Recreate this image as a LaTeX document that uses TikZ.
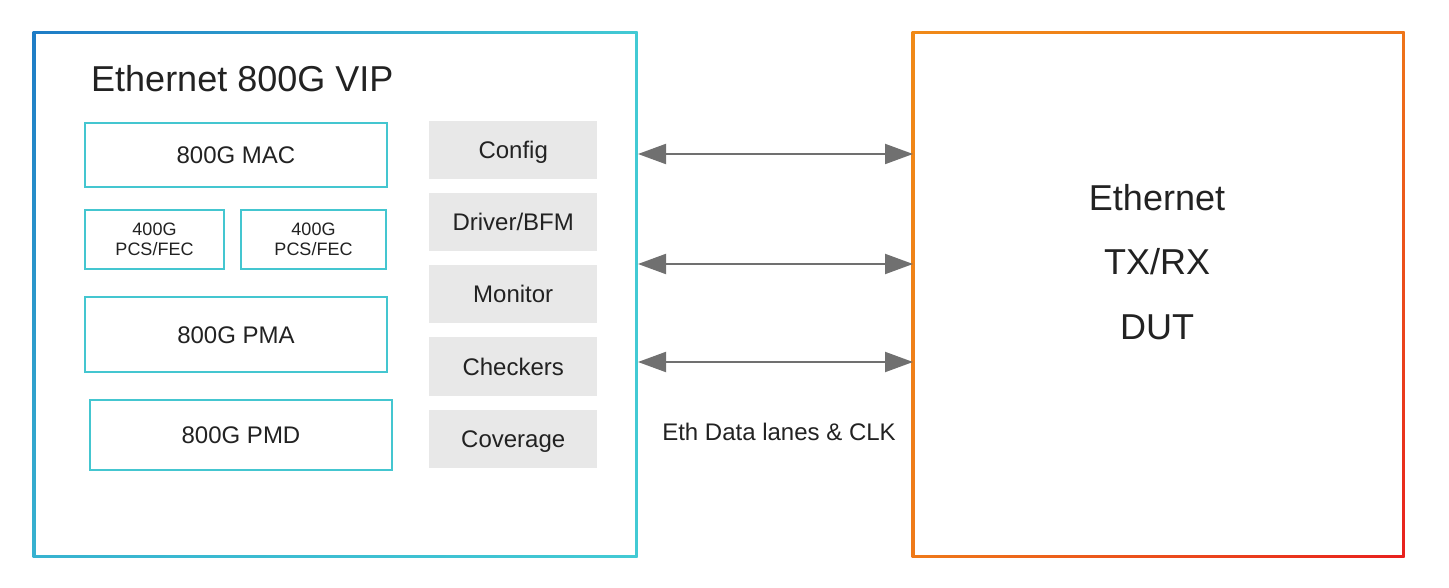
\documentclass[tikz,border=0pt]{standalone}
\usepackage{fontspec}
\setmainfont{Liberation Sans}
\usetikzlibrary{shadings,arrows.meta}
\begin{document}
\begin{tikzpicture}[x=1pt,y=-1pt,
  cyanbox/.style={draw=boxcyan,line width=2pt,fill=white,inner sep=0pt,anchor=north west,align=center,text=txt},
  bigtxt/.style={font=\fontsize{24}{28}\selectfont,text height=17pt,text depth=0pt},
  graybox/.style={fill=boxgray,inner sep=0pt,anchor=north west,align=center,text=txt,minimum width=168pt,bigtxt},
  link/.style={draw=arrowgray,line width=2pt,{Triangle[length=28pt,width=20pt]}-{Triangle[length=28pt,width=20pt]}}]
\definecolor{boxcyan}{HTML}{44C6D0}
\definecolor{boxgray}{HTML}{E8E8E8}
\definecolor{txt}{HTML}{222222}
\definecolor{arrowgray}{HTML}{707070}
\definecolor{vipA}{HTML}{1E7CC6}
\definecolor{vipB}{HTML}{42CAD4}
\definecolor{dutA}{HTML}{F08A18}
\definecolor{dutB}{HTML}{E8201E}
\useasboundingbox (0,0) rectangle (1449,588);
\fill[white] (0,0) rectangle (1449,588);
% VIP outer frame with gradient border
\shade[upper left=vipA,upper right=vipB,lower left=vipB!70!vipA,lower right=vipB] (32.5,31.5) rectangle (637.5,557.5);
\fill[white] (35.5,34.5) rectangle (634.5,554.5);
% DUT outer frame
\shade[upper left=dutA,upper right=dutA!80!dutB,lower left=dutA!85!dutB,lower right=dutB] (911.5,31.5) rectangle (1404.5,557.5);
\fill[white] (914.5,34.5) rectangle (1401.5,554.5);
\node[font=\fontsize{36}{40}\selectfont,text=txt,anchor=west,inner sep=0pt] (title) at (91,79) {Ethernet 800G VIP};
\node[cyanbox,minimum width=302pt,minimum height=64pt,bigtxt] (mac) at (84,122) {800G MAC};
\node[cyanbox,minimum width=139pt,minimum height=59pt,font=\fontsize{18}{20}\selectfont] (pcs1) at (84,209) {400G\\PCS/FEC};
\node[cyanbox,minimum width=145pt,minimum height=59pt,font=\fontsize{18}{20}\selectfont] (pcs2) at (240,209) {400G\\PCS/FEC};
\node[cyanbox,minimum width=302pt,minimum height=75pt,bigtxt] (pma) at (84,296) {800G PMA};
\node[cyanbox,minimum width=302pt,minimum height=70pt,bigtxt] (pmd) at (89,399) {800G PMD};
\node[graybox,minimum height=58pt] (cfg) at (429,121) {Config};
\node[graybox,minimum height=58pt] (drv) at (429,193) {Driver/BFM};
\node[graybox,minimum height=58pt] (mon) at (429,265) {Monitor};
\node[graybox,minimum height=59pt] (chk) at (429,337) {Checkers};
\node[graybox,minimum height=58pt] (cov) at (429,410) {Coverage};
\coordinate (a1l) at (638,154);
\coordinate (a1r) at (913,154);
\coordinate (a2l) at (638,264);
\coordinate (a2r) at (913,264);
\coordinate (a3l) at (638,362);
\coordinate (a3r) at (913,362);
\draw[link] (a1l) -- (a1r);
\draw[link] (a2l) -- (a2r);
\draw[link] (a3l) -- (a3r);
\node[bigtxt,text=txt] (lbl) at (779,432) {Eth Data lanes \& CLK};
\node[font=\fontsize{36}{40}\selectfont,text=txt] (d1) at (1157,198) {Ethernet};
\node[font=\fontsize{36}{40}\selectfont,text=txt] (d2) at (1157,262) {TX/RX};
\node[font=\fontsize{36}{40}\selectfont,text=txt] (d3) at (1157,327) {DUT};
\end{tikzpicture}
\end{document}
